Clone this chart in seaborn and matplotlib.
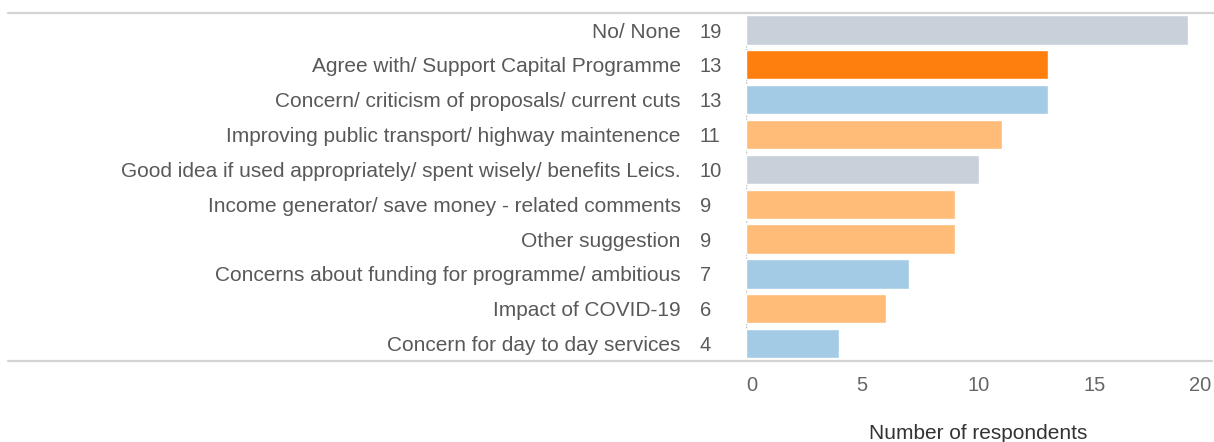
import matplotlib
matplotlib.use("Agg")
import matplotlib.pyplot as plt
from matplotlib.lines import Line2D
import seaborn as sns
import pandas as pd

categories = [
    "No/ None",
    "Agree with/ Support Capital Programme",
    "Concern/ criticism of proposals/ current cuts",
    "Improving public transport/ highway maintenence",
    "Good idea if used appropriately/ spent wisely/ benefits Leics.",
    "Income generator/ save money - related comments",
    "Other suggestion",
    "Concerns about funding for programme/ ambitious",
    "Impact of COVID-19",
    "Concern for day to day services",
]
counts = [19, 13, 13, 11, 10, 9, 9, 7, 6, 4]
bar_colors = ["#C8D0D9", "#FF7F0E", "#A3CBE6", "#FFBB78", "#C8D0D9",
              "#FFBB78", "#FFBB78", "#A3CBE6", "#FFBB78", "#A3CBE6"]
x_ticks = [0, 5, 10, 15, 20]

df = pd.DataFrame({"category": categories, "count": counts})

sns.set_style("white")
plt.rcParams["font.family"] = ["Liberation Sans", "DejaVu Sans"]

fig = plt.figure(figsize=(12.14, 4.42), dpi=100)
ax = fig.add_axes([746 / 1214, 1 - 361 / 442, 465 / 1214, (361 - 12.6) / 442])

sns.barplot(data=df, x="count", y="category", hue="category",
            palette=bar_colors, legend=False, width=0.84, ax=ax, saturation=1)

ax.set_xlim(0, 20)
ax.set_ylim(9.5, -0.5)
ax.set_xticks(x_ticks)
ax.set_xticklabels([str(t) for t in x_ticks], fontsize=14.5, color="#666666")
ax.get_xticklabels()[0].set_ha("left")
ax.get_xticklabels()[-1].set_ha("right")
ax.set_yticks(range(len(categories)))
ax.set_yticklabels(categories, fontsize=15, color="#595959")
ax.tick_params(axis="y", length=0, pad=47)
ax.tick_params(axis="x", length=6, width=1, color="#E3E3E3", pad=5)
for s in ax.spines.values():
    s.set_visible(False)
ax.axvline(0, color="#BBBBBB", lw=1, ls=(0, (1, 1)), zorder=0)

# value labels between category names and bars
for i, v in enumerate(counts):
    ax.text(-0.099, i, str(v), transform=ax.get_yaxis_transform(),
            ha="left", va="center_baseline", fontsize=14.5, color="#595959")

ax.set_ylabel("")
ax.set_xlabel("Number of respondents", fontsize=15, color="#333333", labelpad=21)

# full-width rules at top and bottom
fig.add_artist(Line2D([8 / 1214, 1.0], [1 - 12.6 / 442] * 2, color="#D3D3D3", lw=1.6,
                      transform=fig.transFigure))
fig.add_artist(Line2D([8 / 1214, 1212 / 1214], [1 - 361 / 442] * 2, color="#D3D3D3", lw=1.6,
                      transform=fig.transFigure))

fig.savefig("out.png", dpi=100)
